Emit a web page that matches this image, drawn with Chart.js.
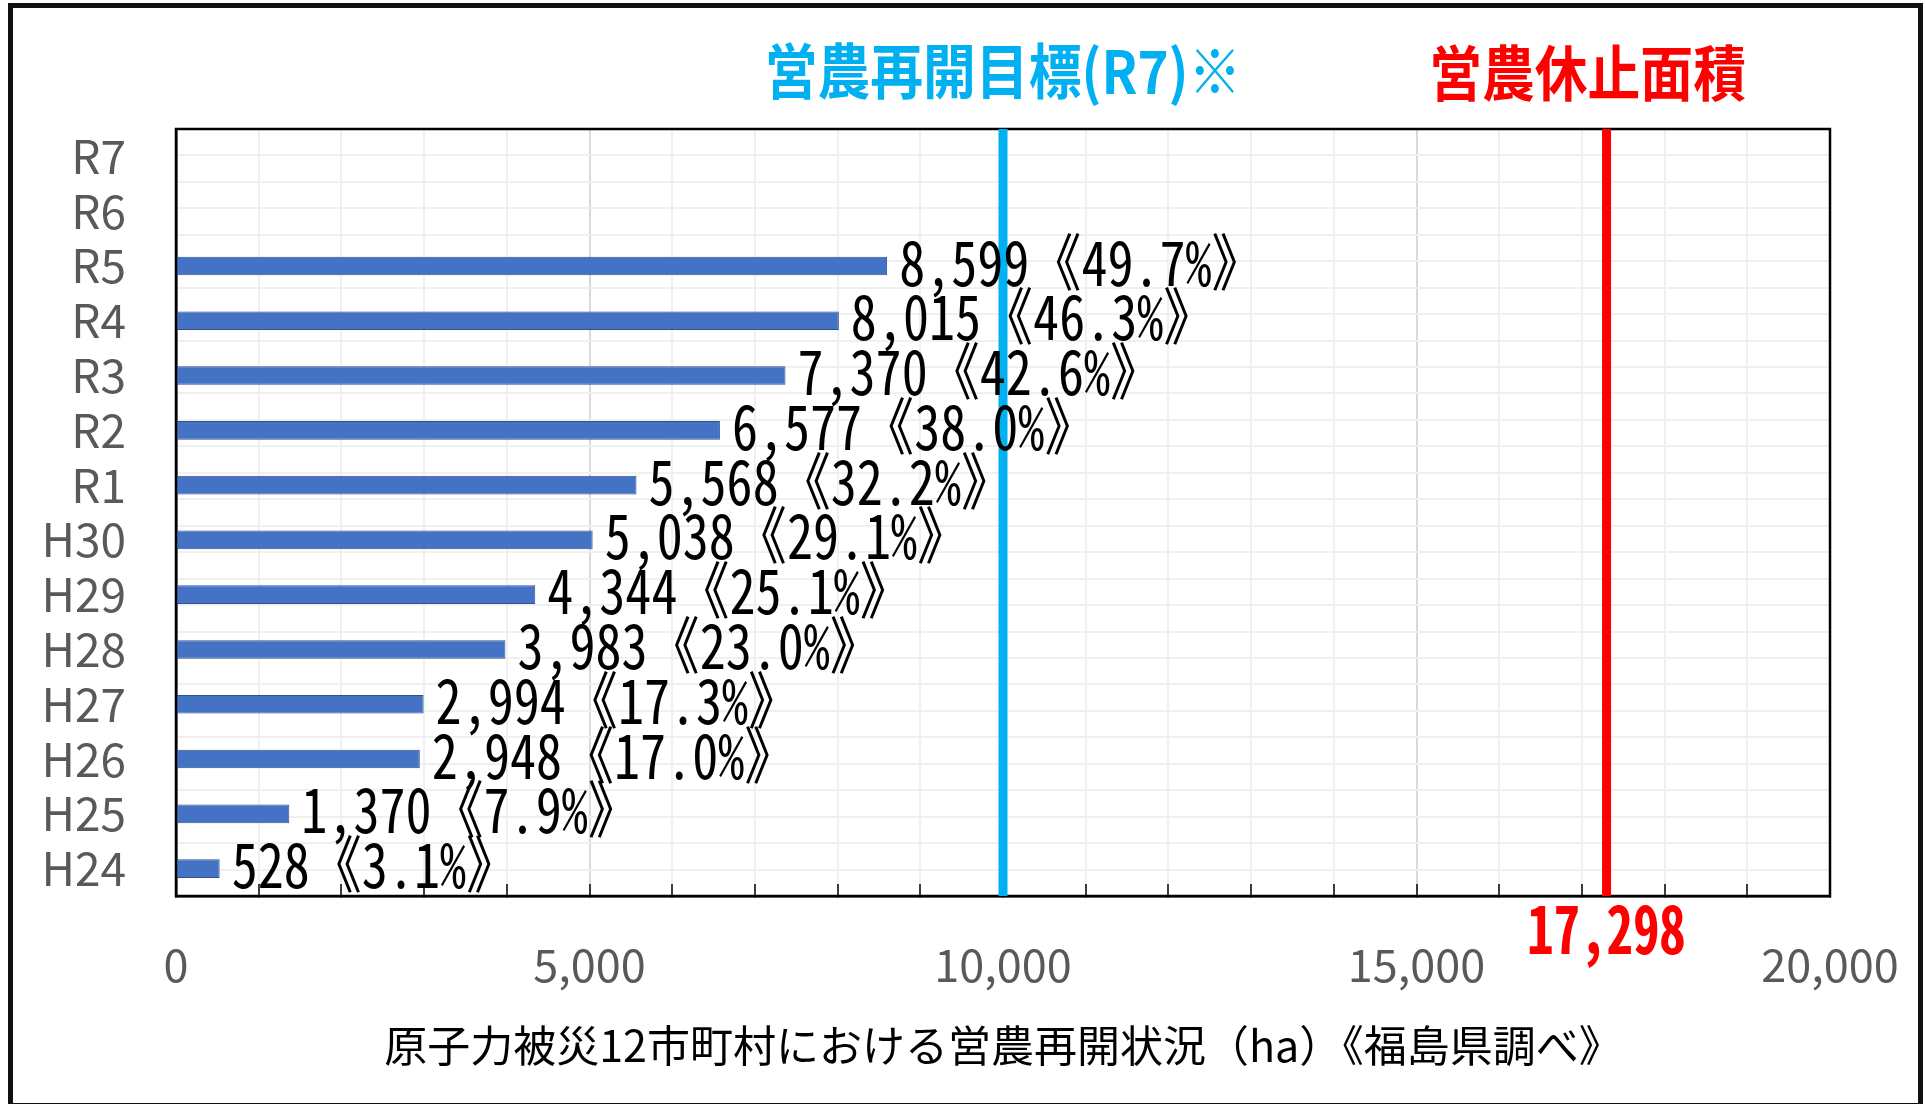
<!DOCTYPE html>
<html>
<head>
<meta charset="utf-8">
<script src="https://cdn.jsdelivr.net/npm/chart.js@4.4.1/dist/chart.umd.min.js"></script>
<style>
  html, body { margin: 0; padding: 0; background: #fff; }
  #wrap { position: absolute; left: 0; top: 0; width: 1926px; height: 1104px; }
</style>
</head>
<body>
<div id="wrap"><canvas id="chart" width="1926" height="1104"></canvas></div>
<script>
// data (chronological, bottom to top)
const years = ['H24', 'H25', 'H26', 'H27', 'H28', 'H29', 'H30', 'R1', 'R2', 'R3', 'R4', 'R5', 'R6', 'R7'];
const areas = [528, 1370, 2948, 2994, 3983, 4344, 5038, 5568, 6577, 7370, 8015, 8599, null, null];
const shares = ['3.1', '7.9', '17.0', '17.3', '23.0', '25.1', '29.1', '32.2', '38.0', '42.6', '46.3', '49.7', null, null];
const targetArea = 10000;
const suspendedArea = 17298;
const targetLabel = '営農再開目標(R7)※';
const suspendedLabel = '営農休止面積';
const axisTitle = '原子力被災12市町村における営農再開状況（ha）《福島県調べ》';
const xMax = 20000;

const FONT = '"Noto Sans CJK JP", "Noto Sans", sans-serif';
const MONO = '"Noto Sans Mono CJK JP", "Noto Sans CJK JP", sans-serif';

function fmt(n) {
  return n.toLocaleString('en-US');
}

function squeezeText(ctx, text, x, y, sx, align) {
  ctx.save();
  ctx.translate(x, y);
  ctx.scale(sx, 1);
  const w = ctx.measureText(text).width;
  let dx = 0;
  if (align === 'center') dx = -w / 2;
  ctx.textAlign = 'left';
  ctx.fillText(text, dx, 0);
  ctx.restore();
}

const framePlugin = {
  id: 'frame',
  beforeDraw(chart) {
    const ctx = chart.ctx;
    ctx.save();
    ctx.fillStyle = '#fff';
    ctx.fillRect(0, 0, chart.width, chart.height);
    ctx.strokeStyle = '#111';
    ctx.lineWidth = 5;
    ctx.strokeRect(10.5, 5.5, 1910, 1100);
    ctx.restore();
  }
};

const overlayPlugin = {
  id: 'overlay',
  afterDatasetsDraw(chart) {
    const ctx = chart.ctx;
    const area = chart.chartArea;
    const xs = chart.scales.x;
    const blueX = xs.getPixelForValue(targetArea);
    const redX = xs.getPixelForValue(suspendedArea);

    ctx.save();
    // plot border
    ctx.strokeStyle = '#000';
    ctx.lineWidth = 2.5;
    ctx.strokeRect(area.left, area.top, area.right - area.left, area.bottom - area.top);

    // reference lines
    ctx.lineWidth = 9;
    ctx.strokeStyle = '#00B0F0';
    ctx.beginPath();
    ctx.moveTo(blueX, area.top);
    ctx.lineTo(blueX, area.bottom);
    ctx.stroke();
    ctx.strokeStyle = '#FF0000';
    ctx.beginPath();
    ctx.moveTo(redX, area.top);
    ctx.lineTo(redX, area.bottom);
    ctx.stroke();

    // headings over the lines
    ctx.textBaseline = 'middle';
    ctx.font = 'bold 60px ' + FONT;
    ctx.fillStyle = '#00B0F0';
    squeezeText(ctx, targetLabel, blueX, 71, 0.88, 'center');
    ctx.fillStyle = '#FF0000';
    squeezeText(ctx, suspendedLabel, redX - 19, 73, 0.88, 'center');

    // value under the red line
    ctx.font = 'bold 66px ' + MONO;
    squeezeText(ctx, fmt(suspendedArea), redX, 929, 0.8, 'center');

    // bar labels
    ctx.fillStyle = '#000';
    ctx.font = '62px ' + MONO;
    const meta = chart.getDatasetMeta(0);
    meta.data.forEach((bar, i) => {
      if (areas[i] == null) return;
      const text = fmt(areas[i]) + '《' + shares[i] + '%》';
      squeezeText(ctx, text, bar.x + 12, bar.y - 4, 0.84, 'left');
    });
    ctx.restore();
  }
};

new Chart(document.getElementById('chart'), {
  type: 'bar',
  data: {
    labels: years,
    datasets: [{
      data: areas,
      backgroundColor: '#4472C4',
      borderColor: '#2F528F',
      borderWidth: 1,
      barPercentage: 0.34,
      categoryPercentage: 1
    }]
  },
  options: {
    indexAxis: 'y',
    responsive: false,
    animation: false,
    devicePixelRatio: 1,
    layout: { padding: { left: 0, top: 129, right: 96, bottom: 0 } },
    plugins: {
      legend: { display: false },
      tooltip: { enabled: false }
    },
    scales: {
      x: {
        type: 'linear',
        min: 0,
        max: xMax,
        position: 'bottom',
        ticks: {
          stepSize: 1000,
          autoSkip: false,
          maxRotation: 0,
          padding: 54,
          color: '#595959',
          font: { family: FONT, size: 45 },
          callback: v => (v % 5000 === 0 ? fmt(v) : '')
        },
        grid: {
          color: c => (c.tick && c.tick.value % 5000 === 0 ? '#d9d9d9' : '#f0f0f0'),
          lineWidth: 2,
          tickLength: -12,
          tickColor: '#000',
          tickWidth: 1.5
        },
        border: { color: '#000', width: 2.5 },
        title: {
          display: true,
          text: axisTitle,
          color: '#000',
          font: { family: FONT, size: 43 },
          padding: { top: 0, bottom: 33 }
        },
        afterFit: s => {
          s.height = 208;
          s.paddingLeft = 0;
          s.paddingRight = 0;
        }
      },
      y: {
        type: 'category',
        reverse: true,
        grid: { display: false },
        border: { color: '#000', width: 2.5 },
        ticks: { color: '#595959', font: { family: FONT, size: 46 }, padding: 42, autoSkip: false },
        afterFit: s => {
          s.width = 176;
          s.paddingTop = 0;
          s.paddingBottom = 0;
        }
      },
      yg: {
        type: 'linear',
        position: 'right',
        min: 0,
        max: years.length,
        ticks: { stepSize: 0.5, display: false },
        grid: { color: '#f0f0f0', lineWidth: 2, drawTicks: false },
        border: { display: false },
        afterFit: s => { s.width = 0; }
      }
    }
  },
  plugins: [framePlugin, overlayPlugin]
});
</script>
</body>
</html>
